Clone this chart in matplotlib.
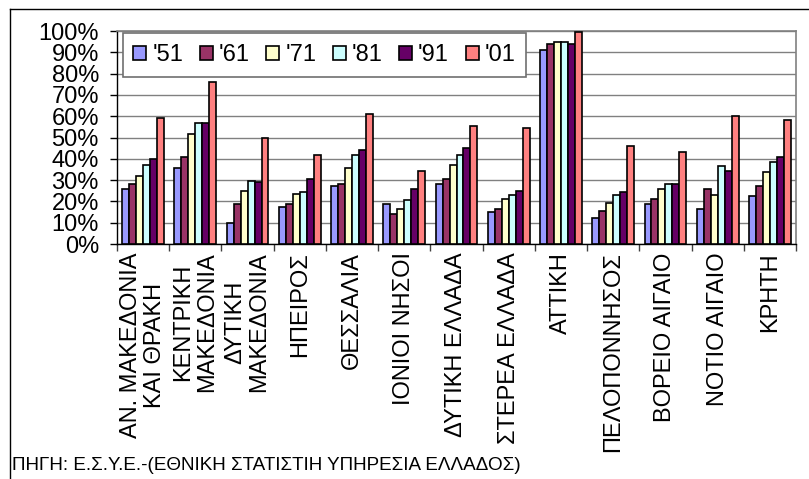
import matplotlib
matplotlib.use("Agg")
import matplotlib.pyplot as plt
from matplotlib.lines import Line2D
import numpy as np

plt.rcParams['font.family'] = ['Liberation Sans', 'DejaVu Sans']

categories = [
    "ΑΝ. ΜΑΚΕΔΟΝΙΑ\nΚΑΙ ΘΡΑΚΗ",
    "ΚΕΝΤΡΙΚΗ\nΜΑΚΕΔΟΝΙΑ",
    "ΔΥΤΙΚΗ\nΜΑΚΕΔΟΝΙΑ",
    "ΗΠΕΙΡΟΣ",
    "ΘΕΣΣΑΛΙΑ",
    "ΙΟΝΙΟΙ ΝΗΣΟΙ",
    "ΔΥΤΙΚΗ ΕΛΛΑΔΑ",
    "ΣΤΕΡΕΑ ΕΛΛΑΔΑ",
    "ΑΤΤΙΚΗ",
    "ΠΕΛΟΠΟΝΝΗΣΟΣ",
    "ΒΟΡΕΙΟ ΑΙΓΑΙΟ",
    "ΝΟΤΙΟ ΑΙΓΑΙΟ",
    "ΚΡΗΤΗ",
]

series_names = ["'51", "'61", "'71", "'81", "'91", "'01"]

v51 = [26, 35.5, 10, 17.5, 27, 18.7, 28, 15, 91, 12, 18.7, 16.6, 22.5]
v61 = [28, 41, 18.7, 18.7, 28, 14, 30.6, 16.6, 94, 15.5, 21.3, 26, 27]
v71 = [31.7, 51.5, 25, 23.4, 35.5, 16.6, 37.3, 21.3, 94.7, 19.4, 26, 23.2, 33.6]
v81 = [37, 57, 29.8, 24.2, 42, 20.5, 42, 23.2, 94.7, 23.2, 28, 36.4, 38.3]
v91 = [40, 57, 29, 30.6, 44, 26, 45, 25, 94, 24.2, 28, 34.5, 41]
v01 = [59, 76, 49.6, 42, 61, 34.5, 55.2, 54.3, 99.4, 45.8, 43, 60, 58]

yticks_pct = [0, 10, 20, 30, 40, 50, 60, 70, 80, 90, 100]
source_text = "ΠΗΓΗ: Ε.Σ.Υ.Ε.-(ΕΘΝΙΚΗ ΣΤΑΤΙΣΤΙΗ ΥΠΗΡΕΣΙΑ ΕΛΛΑΔΟΣ)"

colors = ["#9999FF", "#993366", "#FFFFCC", "#CCFFFF", "#660066", "#FF8080"]
all_series = [v51, v61, v71, v81, v91, v01]

W, H = 809, 479
fig = plt.figure(figsize=(W / 100, H / 100), dpi=100)
fig.patch.set_facecolor("white")

ax_left, ax_right, ax_top, ax_bottom = 117, 796, 31, 244
ax = fig.add_axes([ax_left / W, 1 - ax_bottom / H, (ax_right - ax_left) / W, (ax_bottom - ax_top) / H])

n = len(categories)
x = np.arange(n) + 0.5
bw = 1 / 7.5
handles = []
for i, (name, vals, c) in enumerate(zip(series_names, all_series, colors)):
    b = ax.bar(x + (i - 2.5) * bw, np.array(vals) / 100.0, width=bw, color=c,
               edgecolor="black", linewidth=1.2, label=name, zorder=3)
    handles.append(b)

ax.set_xlim(0, n)
ax.set_ylim(0, 1.0)

ax.set_yticks([v / 100 for v in yticks_pct])
ax.set_yticklabels([f"{v}%" for v in yticks_pct], fontsize=17)
ax.tick_params(axis="y", direction="out", length=5, width=1, color="black", pad=8)

ax.set_xticks(np.arange(n + 1))
ax.set_xticklabels([])
ax.tick_params(axis="x", which="major", direction="out", length=5, width=1, color="#404040")
ax.set_xticks(x, minor=True)
ax.set_xticklabels(categories, minor=True, rotation=90, fontsize=17,
                   ha="center", va="top", multialignment="center", linespacing=1.12)
ax.tick_params(axis="x", which="minor", length=0, pad=6)

ax.yaxis.grid(True, color="#808080", linewidth=1.0, zorder=0)
ax.set_axisbelow(True)
for s in ["top", "right"]:
    ax.spines[s].set_color("#808080")
    ax.spines[s].set_linewidth(1.2)
for s in ["left", "bottom"]:
    ax.spines[s].set_color("black")
    ax.spines[s].set_linewidth(1.0)

leg = ax.legend(handles=handles, loc="upper left", ncol=6, mode="expand",
                bbox_to_anchor=(0.0084, 0.785, 0.594, 0.204), fontsize=17,
                handlelength=0.55, handleheight=0.55, handletextpad=0.25,
                borderpad=0.45, borderaxespad=0, fancybox=False, framealpha=1,
                edgecolor="#707070")
leg.get_frame().set_linewidth(1.2)

fig.text(12 / W, 1 - 470 / H, source_text, fontsize=13.6, ha="left", va="baseline")

fig.add_artist(Line2D([10 / W, 10 / W], [0, 1 - 9 / H], transform=fig.transFigure,
                      color="black", linewidth=1.0))
fig.add_artist(Line2D([10 / W, 1], [1 - 9 / H, 1 - 9 / H], transform=fig.transFigure,
                      color="black", linewidth=1.0))

fig.savefig("out.png", dpi=100)
